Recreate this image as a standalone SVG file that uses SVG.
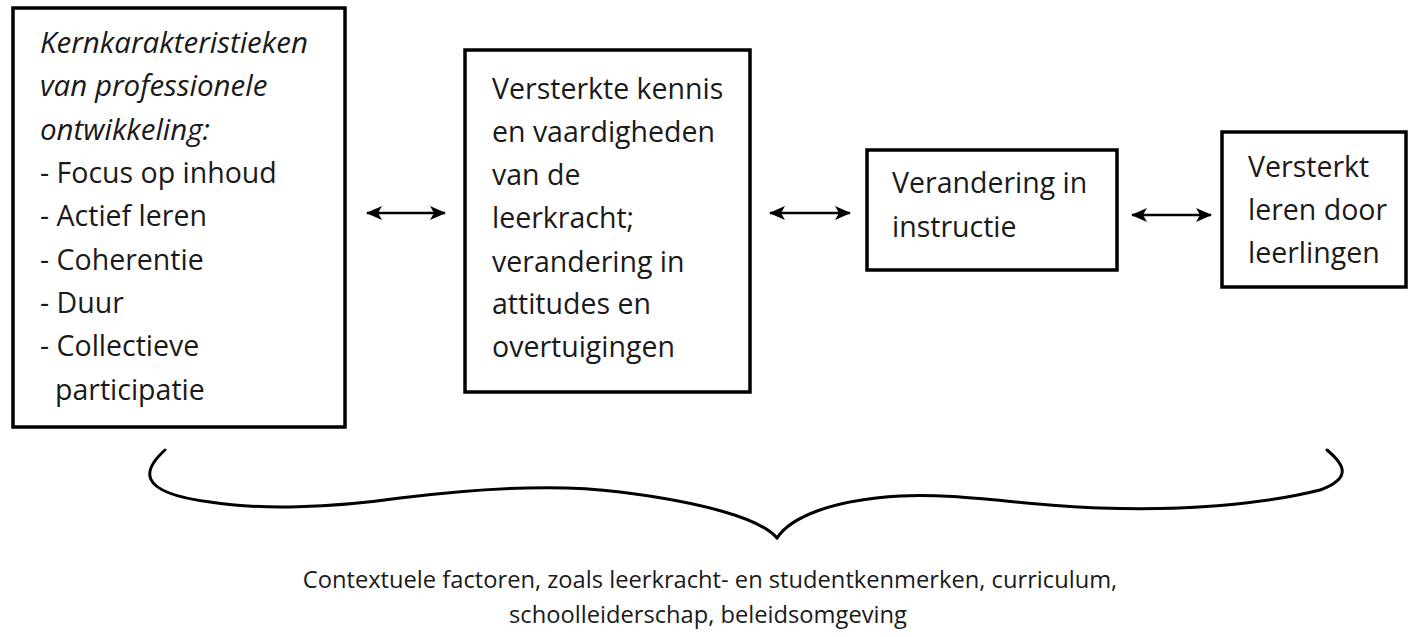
<svg xmlns="http://www.w3.org/2000/svg" width="1411" height="637" viewBox="0 0 1411 637">
<style>
.box{fill:#fff;stroke:#000;stroke-width:3.5}
.t{font-family:"Open Sans","Noto Sans","Liberation Sans",sans-serif;font-size:28.5px;fill:#1a1a1a}
.i{font-style:italic;font-size:29.5px}
.b{font-size:23.7px}
.c{stroke:#000;stroke-width:2.4;fill:none}
.brace{stroke:#000;stroke-width:3;fill:none;stroke-linecap:round}
</style>
<defs>
<marker id="ah" viewBox="0 0 16 14" refX="15" refY="7" markerWidth="16" markerHeight="14" markerUnits="userSpaceOnUse" orient="auto-start-reverse">
<path d="M0,0 L16,7 L0,14 L4,7 z" fill="#000"/>
</marker>
</defs>
<rect width="1411" height="637" fill="#fff"/>
<g id="node-kern">
<rect class="box" x="13" y="8" width="332" height="419"/>
<text class="t i" x="40" y="53">Kernkarakteristieken</text>
<text class="t i" x="40" y="96">van professionele</text>
<text class="t i" x="40" y="140">ontwikkeling:</text>
<text class="t" x="40" y="183">- Focus op inhoud</text>
<text class="t" x="40" y="226">- Actief leren</text>
<text class="t" x="40" y="270">- Coherentie</text>
<text class="t" x="40" y="313">- Duur</text>
<text class="t" x="40" y="356">- Collectieve</text>
<text class="t" x="55" y="400">participatie</text>
</g>
<g id="node-kennis">
<rect class="box" x="465" y="50" width="285" height="342"/>
<text class="t" x="492" y="99">Versterkte kennis</text>
<text class="t" x="492" y="142">en vaardigheden</text>
<text class="t" x="492" y="185">van de</text>
<text class="t" x="492" y="228">leerkracht;</text>
<text class="t" x="492" y="272">verandering in</text>
<text class="t" x="492" y="314">attitudes en</text>
<text class="t" x="492" y="357">overtuigingen</text>
</g>
<g id="node-instructie">
<rect class="box" x="867" y="150" width="250" height="120"/>
<text class="t" x="892" y="193">Verandering in</text>
<text class="t" x="892" y="237">instructie</text>
</g>
<g id="node-leren">
<rect class="box" x="1222" y="132" width="184" height="155"/>
<text class="t" x="1248" y="177">Versterkt</text>
<text class="t" x="1248" y="220">leren door</text>
<text class="t" x="1248" y="263">leerlingen</text>
</g>
<g id="connectors">
<line class="c" x1="367" y1="213" x2="445" y2="213" marker-start="url(#ah)" marker-end="url(#ah)"/>
<line class="c" x1="770" y1="213" x2="850" y2="213" marker-start="url(#ah)" marker-end="url(#ah)"/>
<line class="c" x1="1132" y1="215" x2="1211" y2="215" marker-start="url(#ah)" marker-end="url(#ah)"/>
</g>
<g id="brace">
<path class="brace" d="M165,450 C145,468 132,492 210,502 C260,510 330,508 400,498 C480,488 560,484 620,492 C700,502 760,518 777,538"/>
<path class="brace" d="M777,538 C790,518 830,500 900,496 C960,493 1020,505 1100,508 C1180,511 1260,505 1320,490 C1352,478 1345,465 1327,450"/>
</g>
<g id="context">
<text class="t b" x="710" y="588" text-anchor="middle">Contextuele factoren, zoals leerkracht- en studentkenmerken, curriculum,</text>
<text class="t b" x="708" y="623" text-anchor="middle">schoolleiderschap, beleidsomgeving</text>
</g>
</svg>
